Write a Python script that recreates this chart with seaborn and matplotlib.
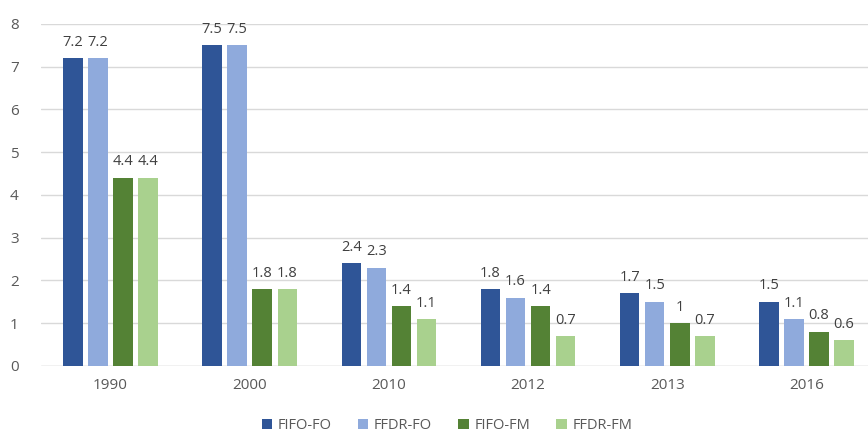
import matplotlib
matplotlib.use("Agg")
import matplotlib.pyplot as plt
import seaborn as sns
import pandas as pd

years = ["1990", "2000", "2010", "2012", "2013", "2016"]
series = ["FIFO-FO", "FFDR-FO", "FIFO-FM", "FFDR-FM"]
fifo_fo = [7.2, 7.5, 2.4, 1.8, 1.7, 1.5]
ffdr_fo = [7.2, 7.5, 2.3, 1.6, 1.5, 1.1]
fifo_fm = [4.4, 1.8, 1.4, 1.4, 1.0, 0.8]
ffdr_fm = [4.4, 1.8, 1.1, 0.7, 0.7, 0.6]
colors = ["#2F5597", "#8FAADC", "#548235", "#A9D18E"]

rows = []
for name, vals in zip(series, [fifo_fo, ffdr_fo, fifo_fm, ffdr_fm]):
    for y, v in zip(years, vals):
        rows.append({"year": y, "series": name, "value": v})
df = pd.DataFrame(rows)

sns.set_theme(style="white")
plt.rcParams["font.family"] = ["Open Sans", "DejaVu Sans"]

fig = plt.figure(figsize=(8.68, 4.42), dpi=100)
ax = fig.add_axes([0.0472, 0.172, 0.962, 0.774])

sns.barplot(data=df, x="year", y="value", hue="series", order=years,
            hue_order=series, palette=colors, width=0.72, gap=0.22,
            ax=ax, legend=True, saturation=1, linewidth=0)

for cont in ax.containers:
    labels = [f"{v:g}" for v in cont.datavalues]
    ax.bar_label(cont, labels=labels, padding=6, fontsize=10.5, color="#404040")

ax.set_ylim(0, 8)
ax.set_xlim(-0.5, 5.5)
ax.set_yticks(range(0, 9))
ax.yaxis.grid(True, color="#D9D9D9", linewidth=1)
ax.set_axisbelow(True)
for s in ax.spines.values():
    s.set_visible(False)
ax.axhline(0, color="#D9D9D9", linewidth=1, zorder=0)
ax.set_xlabel("")
ax.set_ylabel("")
ax.tick_params(axis="both", length=0, labelsize=11, labelcolor="#595959")
ax.tick_params(axis="x", pad=9)
ax.tick_params(axis="y", pad=16)

handles, labels = ax.get_legend_handles_labels()
ax.get_legend().remove()
fig.legend(handles, labels, loc="lower center", bbox_to_anchor=(0.515, -0.01),
           ncol=4, frameon=False, fontsize=10.5, handlelength=0.7, handleheight=0.7,
           columnspacing=1.8, handletextpad=0.4, labelcolor="#595959")

fig.savefig("out.png", dpi=100)
